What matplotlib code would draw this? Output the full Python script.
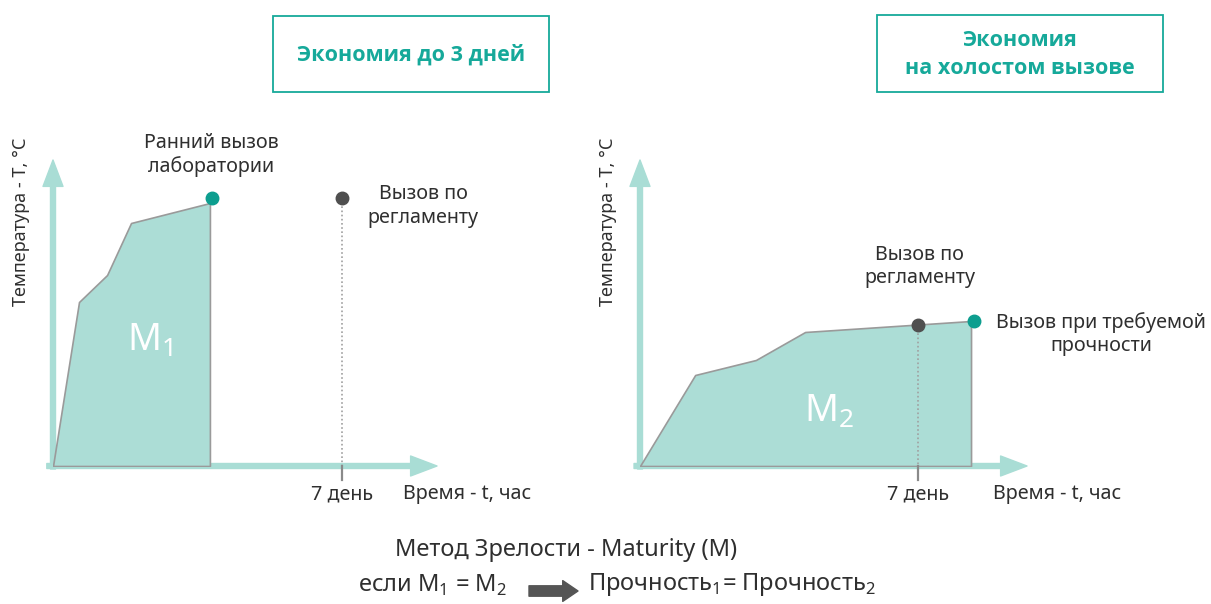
import matplotlib
matplotlib.use("Agg")
import matplotlib.pyplot as plt
from matplotlib.patches import FancyArrowPatch, Rectangle

# --- data (days, arbitrary temperature units) ---
left_days = [0, 0.63, 1.31, 1.89, 3.80]
left_temp = [0, 16.4, 19.1, 24.3, 26.3]
left_early_call = (3.85, 26.8)     # early lab call
left_regular_call = (7.0, 26.8)    # regular call (7 days)

right_days = [0, 1.39, 2.92, 4.16, 8.34]
right_temp = [0, 9.1, 10.6, 13.4, 14.5]
right_regular_call = (7.0, 14.15)
right_strength_call = (8.42, 14.5)

tick_day = 7
tick_label = "7 день"
x_label = "Время - t, час"
y_label = "Температура - Т, °С"
titles = ["Экономия до 3 дней", "Экономия\nна холостом вызове"]

W, H = 1211, 604
TEAL = "#16a99a"
FILL = "#acddd6"
AXIS = "#a9ddd5"
EDGE = "#9a9a9a"
DOT_TEAL = "#0d9e8f"
DOT_GREY = "#4f4f4f"
TXT = "#2f2f2f"

plt.rcParams['font.family'] = ['Noto Sans', 'DejaVu Sans']
plt.rcParams['mathtext.fontset'] = 'custom'
plt.rcParams['mathtext.rm'] = 'Noto Sans'
FS = 14.2

fig = plt.figure(figsize=(W / 100, H / 100), dpi=100)


def fx(x):
    return x / W


def fy(y):
    return 1 - y / H


def panel(x0, x1, xmax, days, temp, grey, teal, mlabel, mpos):
    # axes placed so that data origin sits on pixel (x0, 466)
    ax = fig.add_axes([fx(x0), fy(466), (x1 - x0) / W, (466 - 160) / H])
    ymax = 30.6
    ax.set_xlim(0, xmax)
    ax.set_ylim(0, ymax)
    ax.axis("off")

    for a, b in [((-0.15, 0), (xmax, 0)), ((0, -0.3), (0, ymax))]:
        ax.add_patch(FancyArrowPatch(a, b, arrowstyle="simple,head_length=19,head_width=14.4,tail_width=3.6",
                                     mutation_scale=1, color=AXIS, shrinkA=0, shrinkB=0,
                                     clip_on=False, zorder=1))

    ax.fill_between(days, temp, 0, facecolor=FILL, edgecolor=EDGE, linewidth=1.2, zorder=2)

    ax.plot([grey[0], grey[0]], [grey[1], 0], linestyle=(0, (1, 1.5)), color="#a0a0a0",
            linewidth=1.2, zorder=3)
    ax.plot([tick_day, tick_day], [0, -1.4], color="#8a8a8a", linewidth=1.6,
            clip_on=False, zorder=3)
    ax.plot(*grey, "o", color=DOT_GREY, markersize=9, clip_on=False, zorder=4)
    ax.plot(*teal, "o", color=DOT_TEAL, markersize=9, clip_on=False, zorder=4)

    ax.annotate(tick_label, (tick_day, 0), xytext=(0, -28), textcoords="offset pixels",
                ha="center", va="center", fontsize=FS, color=TXT, annotation_clip=False)
    ax.annotate(x_label, (xmax, 0), xytext=(-34, -28), textcoords="offset pixels",
                ha="left", va="center", fontsize=FS, color=TXT, annotation_clip=False)
    ax.annotate(y_label, (0, ymax / 2), xytext=(-32, 91), textcoords="offset pixels",
                ha="center", va="center", rotation=90, fontsize=13, color=TXT,
                annotation_clip=False)
    ax.text(mpos[0], mpos[1], mlabel, ha="center", va="center", fontsize=27, color="white",
            zorder=5)
    return ax


axl = panel(53, 437, 9.3, left_days, left_temp, left_regular_call, left_early_call,
            "M$_1$", (2.35, 12.5))
axl.annotate("Ранний вызов\nлаборатории", left_early_call, xytext=(-1, 43),
             textcoords="offset pixels", ha="center", va="center", fontsize=FS,
             color=TXT, linespacing=1.25, annotation_clip=False)
axl.annotate("Вызов по\nрегламенту", left_regular_call, xytext=(81, -8),
             textcoords="offset pixels", ha="center", va="center", fontsize=FS,
             color=TXT, linespacing=1.25, annotation_clip=False)

axr = panel(640, 1027, 9.75, right_days, right_temp, right_regular_call, right_strength_call,
            "M$_2$", (4.75, 5.4))
axr.annotate("Вызов по\nрегламенту", right_regular_call, xytext=(2, 58),
             textcoords="offset pixels", ha="center", va="center", fontsize=FS,
             color=TXT, linespacing=1.25, annotation_clip=False)
axr.annotate("Вызов при требуемой\nпрочности", right_strength_call, xytext=(127, -13),
             textcoords="offset pixels", ha="center", va="center", fontsize=FS,
             color=TXT, linespacing=1.25, annotation_clip=False)

# title boxes
for (bx0, by0, bx1, by1), t in zip([(273, 16, 549, 92), (877, 15, 1163, 92)], titles):
    fig.patches.append(Rectangle((fx(bx0), fy(by1)), (bx1 - bx0) / W, (by1 - by0) / H,
                                 transform=fig.transFigure, fill=False, edgecolor=TEAL,
                                 linewidth=1.3))
    fig.text(fx((bx0 + bx1) / 2), fy((by0 + by1) / 2 + 1), t, ha="center", va="center",
             fontsize=15.5, fontweight="bold", family="Open Sans", color=TEAL,
             linespacing=1.45)

# bottom caption
FB = 17
fig.text(fx(566), fy(550), "Метод Зрелости - Maturity (M)", ha="center", va="center",
         fontsize=FB, color=TXT)
fig.text(fx(358), fy(585), "если M$_1$ = M$_2$", ha="left", va="center", fontsize=FB, color=TXT)
fig.text(fx(588), fy(585), "Прочность$_1$= Прочность$_2$", ha="left", va="center",
         fontsize=FB, color=TXT)
fig.patches.append(FancyArrowPatch((fx(529), fy(591)), (fx(578), fy(591)),
                                   transform=fig.transFigure,
                                   arrowstyle="simple,head_length=11,head_width=15,tail_width=7.5",
                                   mutation_scale=1, color="#555555", shrinkA=0, shrinkB=0))

fig.savefig("out.png", dpi=100)
